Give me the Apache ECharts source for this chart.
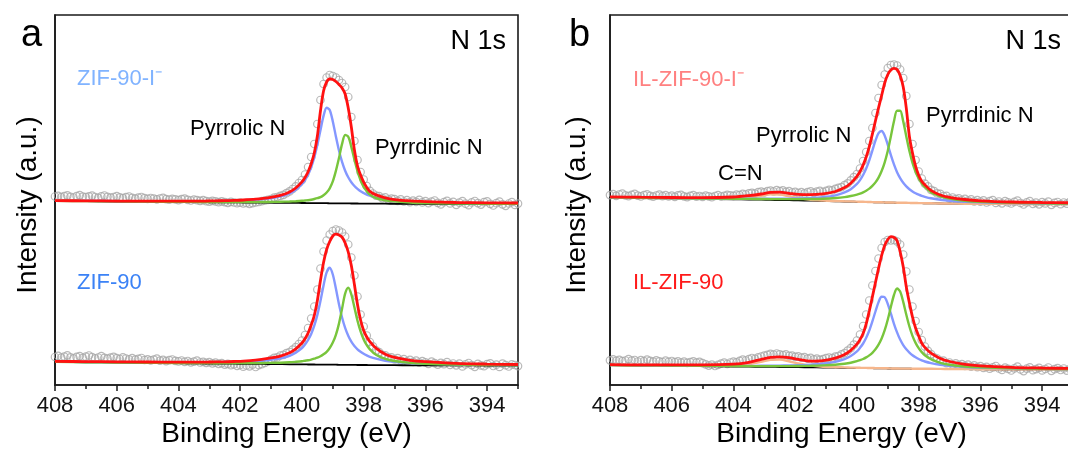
<!DOCTYPE html>
<html>
<head>
<meta charset="utf-8">
<script src="https://cdn.jsdelivr.net/npm/echarts@6/dist/echarts.min.js"></script>
<style>
  html, body { margin: 0; padding: 0; background: #fff; }
  #chart { width: 1068px; height: 454px; }
</style>
</head>
<body>
<div id="chart"></div>
<script>
// N 1s XPS spectra: binding energies (eV) at which the fitted curves are tabulated
const energyGrid = [408, 407, 406, 405, 404, 403.5, 403.1, 402.8, 402.5, 402.2, 401.9, 401.5, 401.1, 400.7, 400.4, 400.2,
  400.0, 399.9, 399.8, 399.7, 399.6, 399.5, 399.4, 399.3, 399.2, 399.1, 399.0, 398.9, 398.8, 398.7, 398.6, 398.5, 398.4, 398.3, 398.2, 398.1, 398.0, 397.9, 397.8,
  397.6, 397.3, 397.0, 396.5, 396.0, 395.0, 394.0, 393.0];

// measured scans run from 408.0 eV down to 393.0 eV in 0.1 eV steps
const scanStart = 408.0;
const scanStep = 0.1;

// tick values of the binding-energy axis
const majorTicks = [394, 396, 398, 400, 402, 404, 406, 408];
const minorTicks = [393, 395, 397, 399, 401, 403, 405, 407];

// vertical stacking of the two spectra in each panel (a.u.)
const upperOffset = 181;
const lowerOffsetA = 19.5;
const lowerOffsetB = 15.5;

// ---------- ZIF-90-I⁻ ----------
const bgZif90I = [3.0, 2.8, 2.5, 2.3, 2.0, 1.9, 1.8, 1.7, 1.6, 1.6, 1.5, 1.4, 1.3, 1.2, 1.1, 1.1,
  1.0, 1.0, 0.9, 0.9, 0.9, 0.9, 0.8, 0.8, 0.8, 0.7, 0.7, 0.7, 0.6, 0.6, 0.6, 0.6, 0.5, 0.5, 0.5, 0.4, 0.4, 0.4, 0.4,
  0.3, 0.3, 0.2, 0.2, 0.1, 0, 0, 0];
const pyrrolicZif90I = [0.2, 0.3, 0.3, 0.5, 0.7, 0.8, 1.0, 1.2, 1.4, 1.7, 2.1, 2.9, 4.1, 6.4, 9.6, 13.2,
  18.9, 23.0, 28.5, 36.0, 45.7, 58.3, 73.0, 87.3, 95.5, 93.3, 81.9, 66.9, 52.9, 41.5, 32.7, 26.1, 21.2, 17.5, 14.6, 12.3, 10.6, 9.0, 7.9,
  6.1, 4.4, 3.3, 2.2, 1.6, 0.9, 0.6, 0.4];
const pyridinicZif90I = [0.1, 0.1, 0.1, 0.1, 0.2, 0.2, 0.2, 0.3, 0.3, 0.3, 0.4, 0.5, 0.7, 1.0, 1.4, 1.7,
  2.2, 2.5, 2.9, 3.4, 4.1, 4.9, 6.0, 7.9, 10.7, 15.0, 21.9, 32.4, 45.3, 59.5, 68.4, 66.6, 56.6, 44.0, 32.4, 23.3, 16.6, 12.4, 9.0,
  5.7, 3.4, 2.5, 1.3, 0.9, 0.5, 0.3, 0.2];
const envelopeZif90I = [0.3, 0.4, 0.4, 0.6, 0.9, 1.0, 1.2, 1.5, 1.7, 2.0, 2.5, 3.4, 4.8, 7.4, 11.0, 14.9,
  21.1, 25.5, 31.4, 39.4, 50.1, 67.1, 92.2, 112.2, 121.2, 124.3, 123.8, 121.8, 118.9, 115.4, 109.4, 95.4, 76.5, 53.5, 37.5, 28.5, 21.5, 16.2, 12.2,
  8.8, 5.8, 4.2, 2.9, 2.3, 1.5, 1.2, 1.0];
const scanZif90I = [
  7.5, 8.2, 6.9, 7.8, 8.6, 7.1, 6.5, 7.9, 8.8, 7.4,
  6.8, 7.6, 8.3, 7.0, 6.2, 7.7, 8.5, 7.2, 6.4, 7.0,
  7.8, 6.6, 5.9, 6.8, 7.5, 6.1, 5.4, 6.3, 7.0, 5.8,
  5.1, 6.0, 5.3, 4.6, 5.5, 6.2, 4.9, 4.3, 5.2, 4.7,
  3.9, 4.8, 5.4, 4.2, 3.5, 4.4, 3.8, 3.1, 3.9, 2.8,
  2.3, 3.2, 2.6, 1.8, 2.7, 1.9, 1.2, 2.1, 1.5, 0.8,
  1.4, 0.6, 1.1, 0.2, 0.9, 1.6, 2.0, 2.8, 3.5, 4.2,
  5.0, 6.4, 7.0, 8.1, 9.2, 10.8, 12.6, 15.0, 17.6, 21.0,
  24.0, 29.5, 37.0, 47.0, 60.0, 80.0, 104.0, 120.0, 126.5, 129.0,
  128.0, 126.5, 124.0, 121.0, 117.0, 107.0, 87.0, 63.0, 44.0, 32.0,
  24.5, 18.0, 13.2, 10.5, 8.4, 7.9, 5.9, 6.6, 4.4, 5.3,
  4.8, 3.2, 4.6, 2.5, 3.9, 1.8, 3.3, 2.2, 4.1, 1.6,
  2.9, 0.8, 2.4, 3.5, 1.2, -0.4, 1.9, 3.1, 0.6, 2.2,
  -0.8, 1.4, 2.8, 0.3, -1.2, 1.6, 3.0, 0.9, -0.6, 1.8,
  2.6, 0.2, -1.5, 0.8, 2.3, -0.3, -1.8, 0.5, 1.9, -0.9,
  0.4];

// ---------- ZIF-90 ----------
const bgZif90 = [3.5, 3.2, 2.9, 2.6, 2.3, 2.2, 2.0, 1.9, 1.9, 1.8, 1.7, 1.6, 1.5, 1.3, 1.2, 1.2,
  1.1, 1.1, 1.0, 1.0, 1.0, 0.9, 0.9, 0.9, 0.8, 0.8, 0.8, 0.8, 0.7, 0.7, 0.7, 0.6, 0.6, 0.6, 0.5, 0.5, 0.5, 0.5, 0.4,
  0.4, 0.3, 0.3, 0.2, 0.2, 0.1, 0, 0];
const pyrrolicZif90 = [0.2, 0.3, 0.3, 0.5, 0.7, 0.8, 1.0, 1.1, 1.3, 1.6, 2.0, 2.6, 3.8, 5.8, 8.5, 11.6,
  16.3, 19.9, 24.5, 30.5, 38.8, 49.7, 63.5, 79.2, 92.3, 96.9, 90.2, 76.1, 60.6, 47.3, 36.9, 29.2, 23.3, 19.0, 15.7, 13.2, 11.2, 9.6, 8.3,
  6.4, 4.5, 3.4, 2.2, 1.6, 0.9, 0.6, 0.4];
const pyridinicZif90 = [0.1, 0.1, 0.1, 0.2, 0.2, 0.3, 0.4, 0.4, 0.5, 0.6, 0.7, 0.8, 1.1, 1.5, 2.0, 2.5,
  3.2, 3.7, 4.2, 4.9, 5.8, 6.9, 8.3, 10.3, 12.9, 16.7, 22.1, 29.9, 41.2, 56.1, 71.2, 77.1, 70.6, 57.6, 44.3, 33.6, 25.6, 19.9, 15.8,
  10.4, 6.3, 4.2, 2.4, 1.6, 0.8, 0.5, 0.3];
const envelopeZif90 = [0.7, 0.7, 0.8, 0.9, 1.0, 1.1, 1.4, 1.7, 1.8, 2.2, 2.7, 3.8, 5.6, 8.1, 11.5, 15.5,
  21.4, 25.7, 31.5, 39.5, 49.0, 64.1, 84.1, 102.1, 115.2, 123.2, 128.7, 130.5, 129.8, 127.6, 121.8, 112.9, 99.4, 80.4, 60.5, 45.0, 34.5, 28.0, 23.5,
  17.0, 11.0, 7.8, 5.0, 3.6, 2.0, 1.4, 1.0];
const scanZif90 = [
  8.5, 9.6, 7.8, 8.9, 10.2, 8.1, 7.2, 8.6, 9.4, 7.6,
  8.8, 10.0, 8.3, 7.1, 8.0, 9.3, 7.7, 6.8, 7.9, 8.7,
  7.4, 6.5, 8.2, 7.0, 6.1, 7.3, 5.8, 6.6, 7.5, 5.5,
  6.2, 5.1, 5.9, 6.8, 4.8, 5.6, 4.4, 5.3, 6.0, 4.6,
  4.1, 5.0, 3.6, 4.5, 3.2, 3.9, 4.8, 3.0, 3.7, 2.6,
  3.3, 2.2, 2.9, 1.6, 2.4, 0.9, 1.7, 0.3, 1.2, -0.4,
  0.5, -1.2, 0.1, -0.8, 0.9, -1.5, 0.4, 1.3, 2.6, 4.0,
  5.8, 7.6, 8.1, 10.0, 10.6, 12.3, 13.5, 15.9, 18.4, 21.5,
  25.0, 30.5, 37.5, 47.0, 59.0, 76.0, 97.0, 114.0, 125.0, 131.0,
  134.5, 136.0, 135.0, 133.0, 129.0, 121.0, 108.0, 90.0, 69.0, 51.0,
  39.0, 30.0, 23.5, 19.2, 15.1, 13.4, 10.6, 10.2, 7.8, 8.1,
  6.2, 7.4, 5.0, 6.3, 4.2, 5.7, 3.6, 4.9, 2.8, 4.4,
  3.1, 1.7, 3.8, 2.4, 0.9, 2.7, 1.3, 3.4, 0.6, 2.0,
  0.2, 1.9, -0.9, 1.1, 2.5, 0.4, -1.3, 1.6, 0.1, -0.7,
  1.4, 2.2, -0.5, 0.8, -1.4, 1.9, 0.3, -1.0, 1.2, 0.5,
  -0.6];

// ---------- IL-ZIF-90-I⁻ ----------
const bgIlZif90I = [6.5, 6.0, 5.6, 5.1, 4.7, 4.5, 4.3, 4.1, 3.9, 3.8, 3.6, 3.3, 3.0, 2.7, 2.5, 2.4,
  2.2, 2.1, 2.1, 2.0, 1.9, 1.8, 1.7, 1.6, 1.6, 1.5, 1.4, 1.4, 1.3, 1.2, 1.2, 1.1, 1.1, 1.0, 0.9, 0.9, 0.8, 0.8, 0.7,
  0.6, 0.5, 0.4, 0.3, 0.2, 0.1, 0, 0];
const cnIlZif90I = [0.1, 0.1, 0.1, 0.2, 0.7, 2.0, 4.0, 5.5, 5.5, 4.0, 2.4, 1.0, 0.5, 0.3, 0.2, 0.2,
  0.2, 0.1, 0.1, 0.1, 0.1, 0.1, 0.1, 0.1, 0.1, 0.1, 0.1, 0.1, 0.1, 0.1, 0.1, 0.1, 0.1, 0.1, 0.1, 0.1, 0.1, 0.1, 0.1,
  0.1, 0, 0, 0, 0, 0, 0, 0];
const pyrrolicIlZif90I = [0.2, 0.2, 0.3, 0.4, 0.6, 0.8, 1.0, 1.1, 1.3, 1.6, 2.0, 2.7, 3.9, 6.0, 9.1, 12.4,
  17.9, 21.8, 26.9, 33.5, 41.8, 51.6, 61.6, 69.3, 71.4, 66.8, 57.7, 47.5, 38.3, 30.6, 24.7, 20.1, 16.5, 13.8, 11.7, 9.9, 8.6, 7.4, 6.5,
  5.1, 3.7, 2.8, 1.9, 1.4, 0.8, 0.5, 0.4];
const pyridinicIlZif90I = [0.2, 0.2, 0.3, 0.4, 0.5, 0.6, 0.7, 0.8, 1.0, 1.1, 1.3, 1.7, 2.3, 3.3, 4.4, 5.6,
  7.2, 8.3, 9.6, 11.3, 13.5, 16.3, 19.9, 24.8, 31.4, 40.2, 51.9, 66.4, 81.5, 92.1, 92.1, 81.5, 66.4, 51.9, 40.2, 31.4, 24.8, 19.9, 16.3,
  11.3, 7.2, 5.0, 3.0, 2.0, 1.1, 0.7, 0.4];
const envelopeIlZif90I = [0.7, 0.8, 0.9, 1.2, 2.3, 3.9, 5.7, 7.5, 7.9, 6.9, 6.0, 6.1, 7.2, 9.8, 13.9, 18.4,
  25.5, 30.4, 36.8, 45.0, 55.5, 68.0, 81.5, 94.5, 106.9, 119.5, 128.1, 132.6, 134.4, 133.3, 127.3, 115.9, 94.6, 66.5, 50.0, 37.0, 28.0, 22.0, 18.5,
  13.0, 8.5, 6.3, 4.2, 3.0, 1.9, 1.5, 1.2];
const scanIlZif90I = [
  8.9, 9.8, 8.2, 9.5, 10.3, 8.6, 7.9, 9.2, 10.1, 8.4,
  7.6, 8.8, 9.7, 8.1, 7.3, 8.5, 9.4, 7.8, 8.9, 7.5,
  8.3, 7.1, 8.6, 9.2, 7.6, 6.9, 8.1, 8.8, 7.4, 8.0,
  7.2, 8.4, 7.7, 6.8, 8.0, 8.9, 7.5, 8.2, 9.1, 8.6,
  8.1, 9.3, 8.8, 10.1, 9.5, 10.6, 11.2, 10.4, 11.8, 12.3,
  11.6, 12.8, 13.4, 12.5, 13.9, 12.9, 13.6, 12.2, 12.8, 11.5,
  12.1, 11.0, 11.8, 10.6, 11.9, 12.6, 11.2, 12.4, 13.1, 12.0,
  13.2, 14.1, 13.6, 15.1, 16.2, 16.8, 18.9, 20.7, 23.6, 26.8,
  30.0, 35.5, 43.0, 52.0, 63.0, 76.0, 91.0, 106.0, 119.0, 129.5,
  136.0, 139.0, 139.5, 138.5, 134.5, 126.0, 108.0, 80.0, 60.0, 44.0,
  32.5, 25.5, 20.4, 17.6, 14.2, 12.9, 10.6, 10.1, 7.9, 8.2,
  5.4, 6.5, 4.8, 5.7, 3.9, 5.2, 3.4, 4.6, 2.7, 3.9,
  2.4, 3.6, 1.5, 2.8, 3.9, 1.1, 2.5, 0.7, 2.9, 1.6,
  0.5, 2.2, 3.3, 1.0, -0.5, 1.7, 2.8, 0.2, 1.4, -0.3,
  1.9, 0.6, 2.4, -0.8, 1.1, 2.0, -0.2, 1.5, 0.3, 2.1,
  0.8];

// ---------- IL-ZIF-90 ----------
const bgIlZif90 = [4.3, 4.0, 3.7, 3.4, 3.0, 2.8, 2.7, 2.6, 2.5, 2.4, 2.3, 2.1, 2.0, 1.8, 1.7, 1.6,
  1.5, 1.5, 1.4, 1.4, 1.3, 1.3, 1.2, 1.2, 1.1, 1.1, 1.0, 1.0, 0.9, 0.9, 0.8, 0.8, 0.8, 0.8, 0.7, 0.7, 0.7, 0.7, 0.6,
  0.6, 0.5, 0.5, 0.4, 0.3, 0.2, 0.1, 0];
const cnIlZif90 = [0.1, 0.1, 0.2, 0.3, 1.0, 2.6, 5.1, 7.0, 7.4, 5.8, 3.8, 1.8, 0.8, 0.5, 0.4, 0.3,
  0.3, 0.2, 0.2, 0.2, 0.2, 0.2, 0.2, 0.2, 0.2, 0.2, 0.2, 0.1, 0.1, 0.1, 0.1, 0.1, 0.1, 0.1, 0.1, 0.1, 0.1, 0.1, 0.1,
  0.1, 0.1, 0, 0, 0, 0, 0, 0];
const pyrrolicIlZif90 = [0.2, 0.3, 0.3, 0.5, 0.7, 0.8, 1.0, 1.1, 1.4, 1.6, 2.0, 2.7, 3.8, 5.9, 8.7, 11.9,
  16.6, 20.2, 24.6, 30.4, 37.7, 46.8, 56.8, 66.2, 71.7, 71.1, 64.5, 54.8, 44.8, 36.2, 29.1, 23.6, 19.4, 16.1, 13.5, 11.5, 9.8, 8.5, 7.4,
  5.8, 4.2, 3.1, 2.1, 1.5, 0.9, 0.6, 0.4];
const pyridinicIlZif90 = [0.2, 0.2, 0.3, 0.3, 0.5, 0.6, 0.7, 0.8, 0.9, 1.0, 1.2, 1.6, 2.1, 3.0, 4.1, 5.2,
  6.8, 7.8, 9.1, 10.7, 12.8, 15.4, 19.0, 23.6, 29.9, 38.2, 49.0, 61.7, 73.6, 80.1, 77.2, 66.8, 53.9, 42.2, 32.9, 25.9, 20.6, 16.7, 13.7,
  9.7, 6.2, 4.3, 2.6, 1.8, 1.0, 0.6, 0.4];
const envelopeIlZif90 = [0.6, 0.6, 0.9, 1.2, 2.4, 4.4, 7.4, 9.5, 10.2, 9.5, 7.8, 6.3, 6.9, 9.6, 13.4, 17.6,
  23.9, 28.4, 34.5, 44.2, 57.2, 71.3, 85.8, 99.9, 112.9, 123.0, 129.0, 131.8, 131.1, 127.9, 117.0, 102.0, 81.8, 65.8, 51.8, 40.8, 32.8, 25.6, 21.5,
  15.7, 10.5, 7.5, 4.8, 3.4, 2.0, 1.4, 1.0];
const scanIlZif90 = [
  9.2, 10.1, 8.6, 9.7, 8.3, 9.0, 10.4, 8.8, 9.5, 8.0,
  9.3, 8.4, 9.9, 8.7, 7.8, 9.1, 8.2, 7.5, 8.9, 7.7,
  8.5, 7.3, 8.1, 6.9, 7.8, 6.6, 7.4, 8.2, 6.8, 7.6,
  6.4, 5.2, 3.9, 4.8, 3.5, 4.6, 5.9, 6.8, 5.5, 7.0,
  7.9, 7.1, 8.6, 9.8, 9.0, 10.4, 11.5, 10.7, 12.1, 13.0,
  13.8, 14.7, 15.6, 14.9, 16.0, 15.2, 14.3, 15.1, 13.6, 13.9,
  12.6, 13.1, 11.8, 12.3, 10.9, 11.6, 10.2, 10.8, 9.6, 10.3,
  11.3, 12.0, 11.4, 12.9, 13.5, 15.1, 16.4, 18.8, 21.3, 24.8,
  29.0, 35.0, 43.5, 55.0, 69.0, 84.0, 98.5, 111.0, 121.5, 127.5,
  129.5, 129.0, 129.5, 128.0, 125.0, 115.0, 98.0, 80.0, 63.0, 48.5,
  37.5, 29.5, 23.0, 18.6, 15.4, 12.1, 11.0, 8.7, 8.9, 6.4,
  7.0, 4.9, 6.1, 4.3, 5.4, 3.6, 4.8, 2.9, 4.1, 2.4,
  3.3, 1.6, 2.7, 0.8, 2.2, 3.5, 1.0, -0.4, 1.8, 0.6,
  -1.0, 1.2, 2.9, 0.1, -1.6, 0.9, 2.1, -0.7, 0.4, 1.7,
  -0.9, 0.5, 2.0, -1.3, 0.3, 1.4, -0.5, 1.0, -1.1, 0.6,
  -0.3];

// ---------- styling ----------
const FONT = '"Liberation Sans", Arial, Helvetica, sans-serif';
const AXIS_COLOR = '#1a1a1a';
const COLORS = {
  envelope: '#ff1111',
  pyrrolic: '#8497ff',
  pyridinic: '#78c53c',
  cn: '#f6b68c',
  background: '#000000',
  scan: '#a8a8a8'
};

// fitted curve = spectrum offset + background + component
function fitCurve(component, bg, offset) {
  return energyGrid.map((e, i) => [e, offset + bg[i] + (component ? component[i] : 0)]);
}
function scanPoints(values, offset) {
  return values.map((v, i) => [Math.round((scanStart - i * scanStep) * 10) / 10, offset + v]);
}

function lineSeries(axisIdx, data, color, width) {
  return {
    type: 'line', xAxisIndex: axisIdx * 2, yAxisIndex: axisIdx, data,
    symbol: 'none', showSymbol: false, smooth: 0.3, silent: true,
    lineStyle: { color, width }, z: 3
  };
}
function scanSeries(axisIdx, data) {
  return {
    type: 'scatter', xAxisIndex: axisIdx * 2, yAxisIndex: axisIdx, data,
    symbol: 'circle', symbolSize: 7.5, silent: true,
    itemStyle: { color: 'rgba(255,255,255,0)', borderColor: COLORS.scan, borderWidth: 1.2 }, z: 2
  };
}

function spectrumSeries(axisIdx, offset, bg, scan, cn, pyrrolic, pyridinic, envelope) {
  const list = [scanSeries(axisIdx, scanPoints(scan, offset))];
  list.push(lineSeries(axisIdx, fitCurve(null, bg, offset), COLORS.background, 1.8));
  if (cn) list.push(lineSeries(axisIdx, fitCurve(cn, bg, offset), COLORS.cn, 2.4));
  list.push(lineSeries(axisIdx, fitCurve(pyrrolic, bg, offset), COLORS.pyrrolic, 2.4));
  list.push(lineSeries(axisIdx, fitCurve(pyridinic, bg, offset), COLORS.pyridinic, 2.4));
  list.push(lineSeries(axisIdx, fitCurve(envelope, bg, offset), COLORS.envelope, 2.8));
  return list;
}

const panels = [{ left: 55 }, { left: 610 }];
const plotTop = 15, plotWidth = 463, plotHeight = 370;

const grids = panels.map(p => ({
  left: p.left, top: plotTop, width: plotWidth, height: plotHeight,
  show: true, borderColor: AXIS_COLOR, borderWidth: 1.6, backgroundColor: 'transparent',
  containLabel: false, outerBoundsMode: 'none'
}));

const xAxes = [];
panels.forEach((p, gi) => {
  xAxes.push({
    gridIndex: gi, type: 'value', min: 393, max: 408, inverse: true, position: 'bottom',
    axisLine: { show: true, onZero: false, lineStyle: { color: AXIS_COLOR, width: 1.6 } },
    axisTick: { show: true, inside: false, length: 6, customValues: majorTicks, lineStyle: { color: AXIS_COLOR, width: 1.5 } },
    axisLabel: { show: true, customValues: majorTicks, fontSize: 22, fontFamily: FONT, color: '#111', margin: 10 },
    splitLine: { show: false }
  });
  xAxes.push({
    gridIndex: gi, type: 'value', min: 393, max: 408, inverse: true, position: 'bottom',
    axisLine: { show: false, onZero: false },
    axisTick: { show: true, inside: false, length: 4, customValues: minorTicks, lineStyle: { color: AXIS_COLOR, width: 1.5 } },
    axisLabel: { show: false },
    splitLine: { show: false }
  });
});

const yAxes = panels.map((p, gi) => ({
  gridIndex: gi, type: 'value', min: 0, max: 370,
  axisLine: { show: true, onZero: false, lineStyle: { color: AXIS_COLOR, width: 1.6 } },
  axisTick: { show: false }, axisLabel: { show: false }, splitLine: { show: false }
}));

function txt(text, x, y, size, color, align, rotation) {
  return {
    type: 'text', x, y, rotation: rotation || 0, silent: true, z: 10,
    style: {
      text, fill: color, font: size + 'px ' + FONT,
      align: align || 'left', verticalAlign: 'middle',
      textAlign: align || 'left', textVerticalAlign: 'middle'
    }
  };
}

const graphics = [
  txt('a', 21, 36, 38, '#000'),
  txt('b', 569, 36, 38, '#000'),
  txt('N 1s', 506, 42, 27, '#000', 'right'),
  txt('N 1s', 1061, 42, 27, '#000', 'right'),
  txt('ZIF-90-I⁻', 77, 79, 22, '#80b3ff'),
  txt('ZIF-90', 77, 283, 22, '#3b82f6'),
  txt('Pyrrolic N', 190, 129, 22, '#000'),
  txt('Pyrrdinic N', 375, 148, 22, '#000'),
  txt('IL-ZIF-90-I⁻', 633, 80, 22, '#ff8080'),
  txt('IL-ZIF-90', 633, 283, 22, '#ff1a1a'),
  txt('C=N', 718, 174, 22, '#000'),
  txt('Pyrrolic N', 756, 136, 22, '#000'),
  txt('Pyrrdinic N', 926, 116, 22, '#000'),
  txt('Intensity (a.u.)', 28, 205, 28, '#000', 'center', Math.PI / 2),
  txt('Intensity (a.u.)', 577, 205, 28, '#000', 'center', Math.PI / 2),
  txt('Binding Energy (eV)', 286.5, 434, 28, '#000', 'center'),
  txt('Binding Energy (eV)', 841.5, 434, 28, '#000', 'center')
];

const series = [].concat(
  spectrumSeries(0, upperOffset, bgZif90I, scanZif90I, null, pyrrolicZif90I, pyridinicZif90I, envelopeZif90I),
  spectrumSeries(0, lowerOffsetA, bgZif90, scanZif90, null, pyrrolicZif90, pyridinicZif90, envelopeZif90),
  spectrumSeries(1, upperOffset, bgIlZif90I, scanIlZif90I, cnIlZif90I, pyrrolicIlZif90I, pyridinicIlZif90I, envelopeIlZif90I),
  spectrumSeries(1, lowerOffsetB, bgIlZif90, scanIlZif90, cnIlZif90, pyrrolicIlZif90, pyridinicIlZif90, envelopeIlZif90)
);

const chart = echarts.init(document.getElementById('chart'), null, { renderer: 'canvas' });
chart.setOption({
  backgroundColor: '#ffffff',
  animation: false,
  textStyle: { fontFamily: FONT },
  grid: grids,
  xAxis: xAxes,
  yAxis: yAxes,
  graphic: graphics,
  series
});
</script>
</body>
</html>
